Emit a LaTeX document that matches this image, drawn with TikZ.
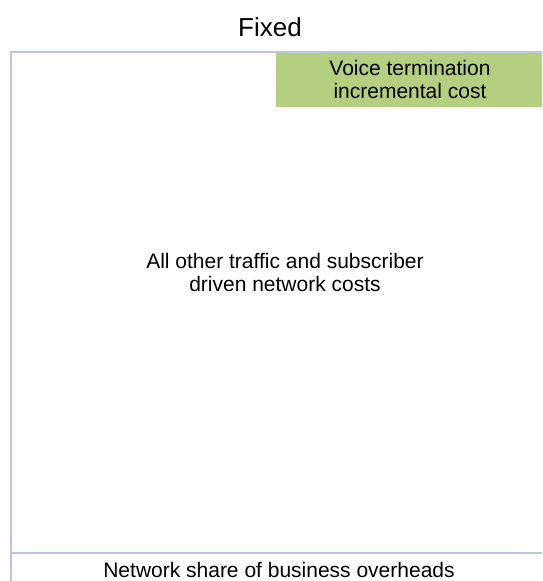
\documentclass[tikz,border=0pt]{standalone}
\usepackage{fontspec}
\setmainfont{Liberation Sans}
\usetikzlibrary{positioning}

\definecolor{framegrey}{RGB}{184,200,218}
\definecolor{termgreen}{RGB}{179,207,127}

\begin{document}
\begin{tikzpicture}[x=1pt,y=1pt,
        costlabel/.style={align=center,font=\fontsize{21}{23}\selectfont,inner sep=0pt}]
        % fix the page size
        \useasboundingbox (0,0) rectangle (542,581);

        % title
        \node[font=\fontsize{26}{28}\selectfont] (title) at (270,554) {Fixed};

        % voice termination block in the top right corner
        \fill[termgreen] (276,474) rectangle (542,528);
        \node[costlabel] (voice) at (410,501) {Voice termination\\incremental cost};

        % frame lines
        \draw[framegrey,line width=2pt] (10,529) -- (542,529);
        \draw[framegrey,line width=2pt] (11,529) -- (11,0);
        \draw[framegrey,line width=2pt] (10,28) -- (542,28);

        % remaining network costs
        \node[costlabel] (other) at (285,309) {All other traffic and subscriber\\driven network costs};

        % overheads
        \node[costlabel] (overheads) at (279,11) {Network share of business overheads};
\end{tikzpicture}
\end{document}
